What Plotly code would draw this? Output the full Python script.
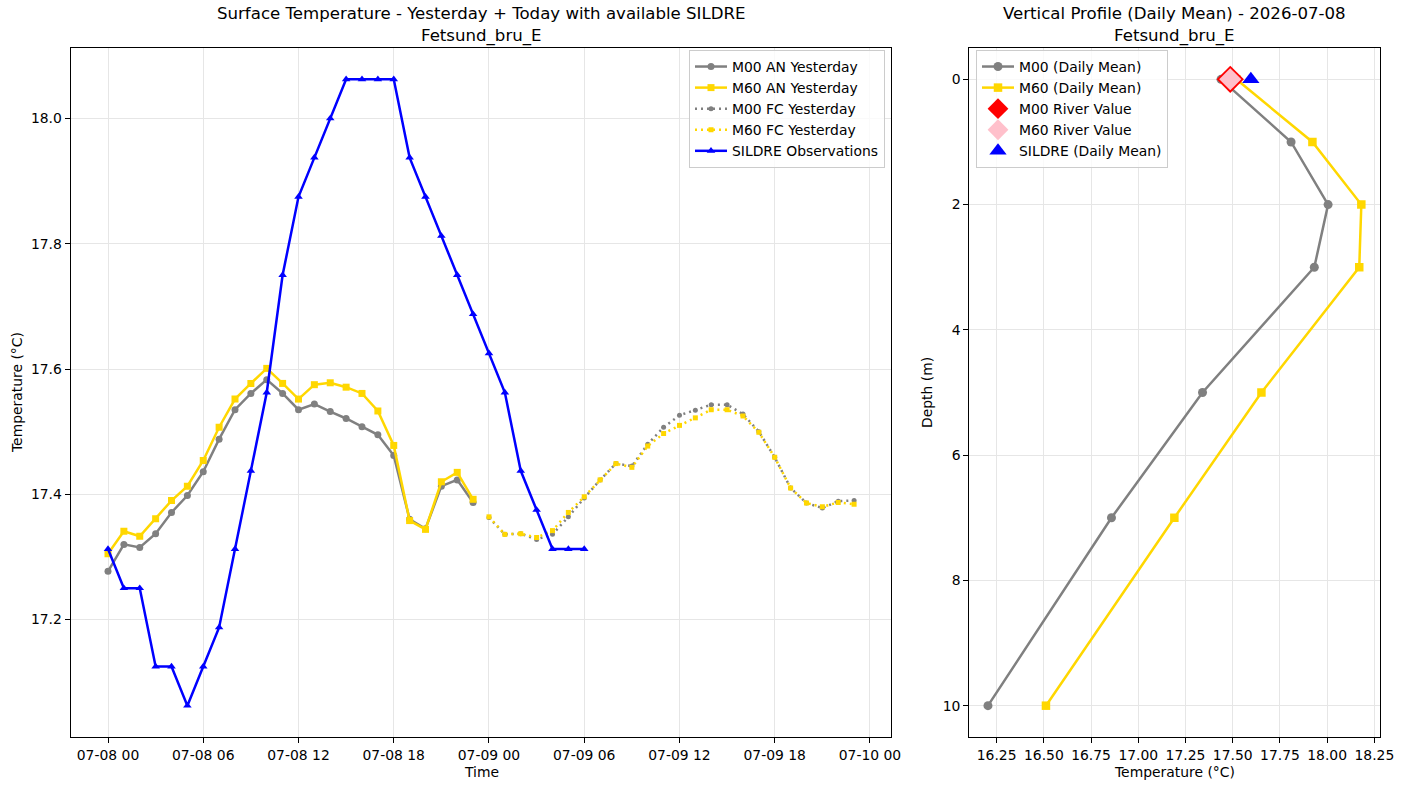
import pandas as pd
import plotly.graph_objects as go

# ---------------- data ----------------
an_start = "2026-07-08 00:00"
fc_start = "2026-07-09 00:00"
obs_start = "2026-07-08 00:00"

m00_an = [17.277, 17.320, 17.315, 17.337, 17.371, 17.398, 17.436, 17.488, 17.535, 17.561,
          17.583, 17.561, 17.535, 17.544, 17.532, 17.521, 17.508, 17.495, 17.462, 17.360,
          17.345, 17.413, 17.423, 17.387]
m60_an = [17.305, 17.341, 17.333, 17.361, 17.390, 17.413, 17.454, 17.507, 17.552, 17.577,
          17.601, 17.577, 17.552, 17.575, 17.578, 17.571, 17.561, 17.533, 17.478, 17.358,
          17.344, 17.420, 17.435, 17.392]
m00_fc = [17.363, 17.336, 17.337, 17.328, 17.336, 17.364, 17.394, 17.423, 17.449, 17.445,
          17.480, 17.507, 17.526, 17.534, 17.543, 17.543, 17.528, 17.500, 17.459, 17.410,
          17.386, 17.378, 17.389, 17.390]
m60_fc = [17.364, 17.336, 17.337, 17.331, 17.342, 17.371, 17.396, 17.423, 17.449, 17.443,
          17.477, 17.497, 17.510, 17.522, 17.535, 17.535, 17.525, 17.499, 17.459, 17.410,
          17.386, 17.380, 17.387, 17.384]
sildre_obs = [17.3125, 17.25, 17.25, 17.125, 17.125, 17.0625, 17.125, 17.1875, 17.3125, 17.4375,
              17.5625, 17.75, 17.875, 17.9375, 18.0, 18.0625, 18.0625, 18.0625, 18.0625, 17.9375,
              17.875, 17.8125, 17.75, 17.6875, 17.625, 17.5625, 17.4375, 17.375, 17.3125, 17.3125,
              17.3125]

depths = [0, 1, 2, 3, 5, 7, 10]
m00_profile = [17.438, 17.809, 18.005, 17.932, 17.340, 16.858, 16.204]
m60_profile = [17.519, 17.922, 18.181, 18.170, 17.652, 17.191, 16.511]
m00_river = 17.487
m60_river = 17.487
sildre_mean = 17.596
surface_depth = 0

left_title = "Surface Temperature - Yesterday + Today with available SILDRE"
right_title = "Vertical Profile (Daily Mean) - 2026-07-08"
station = "Fetsund_bru_E"

left_yticks = [17.2, 17.4, 17.6, 17.8, 18.0]
right_xticks = [16.25, 16.50, 16.75, 17.00, 17.25, 17.50, 17.75, 18.00, 18.25]
right_yticks = [0, 2, 4, 6, 8, 10]

# ---------------- styling ----------------
FONT = "DejaVu Sans"
GRAY = "#808080"
GOLD = "#FFD700"
BLUE = "#0000FF"
W, H = 1403, 790
GRID = "#e6e6e6"

t_an = pd.date_range(an_start, periods=len(m00_an), freq="h")
t_fc = pd.date_range(fc_start, periods=len(m00_fc), freq="h")
t_obs = pd.date_range(obs_start, periods=len(sildre_obs), freq="h")

fig = go.Figure()

fig.add_trace(go.Scatter(x=t_an, y=m00_an, name="M00 AN Yesterday", mode="lines+markers",
                         line=dict(color=GRAY, width=2.5), marker=dict(symbol="circle", size=7, color=GRAY),
                         xaxis="x", yaxis="y", legend="legend"))
fig.add_trace(go.Scatter(x=t_an, y=m60_an, name="M60 AN Yesterday", mode="lines+markers",
                         line=dict(color=GOLD, width=2.5), marker=dict(symbol="square", size=7, color=GOLD),
                         xaxis="x", yaxis="y", legend="legend"))
fig.add_trace(go.Scatter(x=t_fc, y=m00_fc, name="M00 FC Yesterday", mode="lines+markers",
                         line=dict(color=GRAY, width=2.5, dash="2px,4px"),
                         marker=dict(symbol="circle", size=5, color=GRAY),
                         xaxis="x", yaxis="y", legend="legend"))
fig.add_trace(go.Scatter(x=t_fc, y=m60_fc, name="M60 FC Yesterday", mode="lines+markers",
                         line=dict(color=GOLD, width=2.5, dash="2px,4px"),
                         marker=dict(symbol="square", size=5, color=GOLD),
                         xaxis="x", yaxis="y", legend="legend"))
fig.add_trace(go.Scatter(x=t_obs, y=sildre_obs, name="SILDRE Observations", mode="lines+markers",
                         line=dict(color=BLUE, width=2.5), marker=dict(symbol="triangle-up", size=7.5, color=BLUE),
                         xaxis="x", yaxis="y", legend="legend"))

fig.add_trace(go.Scatter(x=m00_profile, y=depths, name="M00 (Daily Mean)", mode="lines+markers",
                         line=dict(color=GRAY, width=2.5), marker=dict(symbol="circle", size=9, color=GRAY),
                         xaxis="x2", yaxis="y2", legend="legend2"))
fig.add_trace(go.Scatter(x=m60_profile, y=depths, name="M60 (Daily Mean)", mode="lines+markers",
                         line=dict(color=GOLD, width=2.5), marker=dict(symbol="square", size=8.5, color=GOLD),
                         xaxis="x2", yaxis="y2", legend="legend2"))
fig.add_trace(go.Scatter(x=[m00_river], y=[surface_depth], name="M00 River Value", mode="markers",
                         marker=dict(symbol="diamond", size=21, color="red"),
                         xaxis="x2", yaxis="y2", legend="legend2"))
fig.add_trace(go.Scatter(x=[m60_river], y=[surface_depth], name="M60 River Value", mode="markers",
                         marker=dict(symbol="diamond", size=17, color="pink"),
                         xaxis="x2", yaxis="y2", legend="legend2"))
fig.add_trace(go.Scatter(x=[sildre_mean], y=[surface_depth], name="SILDRE (Daily Mean)", mode="markers",
                         marker=dict(symbol="triangle-up", size=15, color=BLUE),
                         xaxis="x2", yaxis="y2", legend="legend2"))


def pad(lo, hi, frac=0.05):
    d = (hi - lo) * frac
    return lo - d, hi + d


t0 = min(t_an.min(), t_fc.min(), t_obs.min())
t1 = max(t_an.max(), t_fc.max(), t_obs.max())
span = t1 - t0
xr1 = [t0 - span * 0.05, t1 + span * 0.05]
allv = m00_an + m60_an + m00_fc + m60_fc + sildre_obs
yr1 = pad(min(allv), max(allv))
allx2 = m00_profile + m60_profile + [m00_river, m60_river, sildre_mean]
xr2 = pad(min(allx2), max(allx2))
yr2 = pad(min(depths), max(depths))

dom_x1 = [70.7 / W, 891.4 / W]
dom_x2 = [969.3 / W, 1380.0 / W]
dom_y = [53 / H, 742 / H]

axis_common = dict(showline=True, linecolor="black", linewidth=1.1, mirror=True,
                   ticks="outside", ticklen=5, tickwidth=1.1, tickcolor="black",
                   showgrid=True, gridcolor=GRID, gridwidth=1, zeroline=False, automargin=False,
                   tickfont=dict(family=FONT, size=13.9, color="black"))

fig.update_layout(
    width=W, height=H, autosize=False, margin=dict(l=0, r=0, t=0, b=0, pad=0),
    paper_bgcolor="white", plot_bgcolor="white",
    font=dict(family=FONT, size=13.9, color="black"),
    xaxis=dict(domain=dom_x1, anchor="y", type="date", range=xr1,
               tick0=an_start, dtick=6 * 3600 * 1000, tickformat="%m-%d %H", **axis_common),
    yaxis=dict(domain=dom_y, anchor="x", range=list(yr1), tickvals=left_yticks,
               ticktext=[f"{v:.1f}" for v in left_yticks], **axis_common),
    xaxis2=dict(domain=dom_x2, anchor="y2", range=list(xr2), tickvals=right_xticks,
                ticktext=[f"{v:.2f}" for v in right_xticks], **axis_common),
    yaxis2=dict(domain=dom_y, anchor="x2", range=[yr2[1], yr2[0]], tickvals=right_yticks,
                ticktext=[str(v) for v in right_yticks], **axis_common),
    legend=dict(x=885 / W, y=1 - 50 / H, xanchor="right", yanchor="top",
                bgcolor="rgba(255,255,255,0.8)", bordercolor="#cccccc", borderwidth=1,
                font=dict(family=FONT, size=13.9), tracegroupgap=0, itemwidth=32),
    legend2=dict(x=976 / W, y=1 - 50 / H, xanchor="left", yanchor="top",
                 bgcolor="rgba(255,255,255,0.8)", bordercolor="#cccccc", borderwidth=1,
                 font=dict(family=FONT, size=13.9), tracegroupgap=0, itemwidth=32),
    showlegend=True,
)

cx1 = (dom_x1[0] + dom_x1[1]) / 2
cx2 = (dom_x2[0] + dom_x2[1]) / 2
ann = []
for cx, t in [(cx1, left_title), (cx2, right_title)]:
    ann.append(dict(x=cx, y=1 - 25.5 / H, text=t + "<br>" + station, showarrow=False,
                    xref="paper", yref="paper", xanchor="center", yanchor="middle",
                    font=dict(family=FONT, size=16.6)))
ann.append(dict(x=cx1, y=1 - 772 / H, text="Time", showarrow=False, xref="paper", yref="paper",
                xanchor="center", yanchor="middle", font=dict(family=FONT, size=13.9)))
ann.append(dict(x=cx2, y=1 - 772 / H, text="Temperature (°C)", showarrow=False, xref="paper", yref="paper",
                xanchor="center", yanchor="middle", font=dict(family=FONT, size=13.9)))
ann.append(dict(x=17 / W, y=1 - 393 / H, text="Temperature (°C)", showarrow=False, xref="paper", yref="paper",
                xanchor="center", yanchor="middle", textangle=-90, font=dict(family=FONT, size=13.9)))
ann.append(dict(x=927 / W, y=1 - 393 / H, text="Depth (m)", showarrow=False, xref="paper", yref="paper",
                xanchor="center", yanchor="middle", textangle=-90, font=dict(family=FONT, size=13.9)))
fig.update_layout(annotations=ann)

fig.write_html("out.html")
